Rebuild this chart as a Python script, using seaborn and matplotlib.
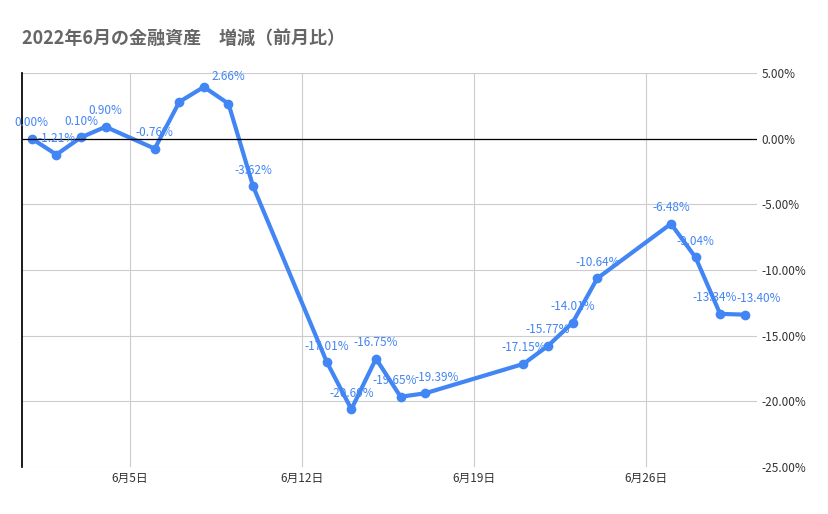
import numpy as np
import pandas as pd
import matplotlib
matplotlib.use("Agg")
import matplotlib.pyplot as plt
import matplotlib.ticker as mticker
import seaborn as sns

days = [1, 2, 3, 4, 6, 7, 8, 9, 10, 13, 14, 15, 16, 17, 21, 22, 23, 24, 27, 28, 29, 30]
values = [0.00, -1.21, 0.10, 0.90, -0.76, 2.80, 3.94, 2.66, -3.62, -17.01, -20.60, -16.75,
          -19.65, -19.39, -17.15, -15.77, -14.01, -10.64, -6.48, -9.04, -13.34, -13.40]
shown = [True, True, True, True, True, False, False, True, True, True, True, True,
         True, True, True, True, True, True, True, True, True, True]
xtick_days = [5, 12, 19, 26]
xtick_labels = ["6月5日", "6月12日", "6月19日", "6月26日"]

df = pd.DataFrame({"day": days, "value": values})

sns.set_theme(style="white")
plt.rcParams['font.family'] = ['Noto Sans CJK JP', 'DejaVu Sans']

fig = plt.figure(figsize=(8.29, 5.14), dpi=100)
ax = fig.add_axes([22 / 829, 1 - 467 / 514, (757 - 22) / 829, (467 - 73) / 514])
blue = "#4285f4"
sns.lineplot(data=df, x="day", y="value", ax=ax, color=blue, linewidth=3,
             marker="o", markersize=7, markeredgewidth=0)

# label nudges (points) to limit collisions
nudge = {9: (0, 17), 17: (8, 9), 16: (-4, 9), 30: (10, 9), 29: (-4, 9)}
for d, v, s in zip(days, values, shown):
    if s:
        dx, dy = nudge.get(d, (0, 9))
        ax.annotate(f"{v:.2f}%", (d, v), xytext=(dx, dy), textcoords="offset points",
                    ha="center", fontsize=8.5, color=blue)

ax.set_xlim(0.6, 30.5)
ax.set_ylim(-25, 5)
ax.yaxis.tick_right()
ax.set_yticks(np.arange(-25, 6, 5))
ax.yaxis.set_major_formatter(mticker.FuncFormatter(lambda v, p: f"{v:.2f}%"))
ax.set_xticks(xtick_days)
ax.set_xticklabels(xtick_labels)
ax.tick_params(labelsize=8.5, colors="#333333", length=0)
ax.grid(True, color="#cccccc", linewidth=0.8)
ax.axhline(0, color="black", linewidth=0.9)
for s in ["top", "right", "bottom"]:
    ax.spines[s].set_visible(False)
ax.spines["left"].set_color("black")
ax.set_xlabel("")
ax.set_ylabel("")

fig.text(22 / 829, 1 - 38 / 514, "2022年6月の金融資産　増減（前月比）", fontsize=13,
         fontweight="bold", color="#666666", va="center")

fig.savefig("out.png", dpi=100)
